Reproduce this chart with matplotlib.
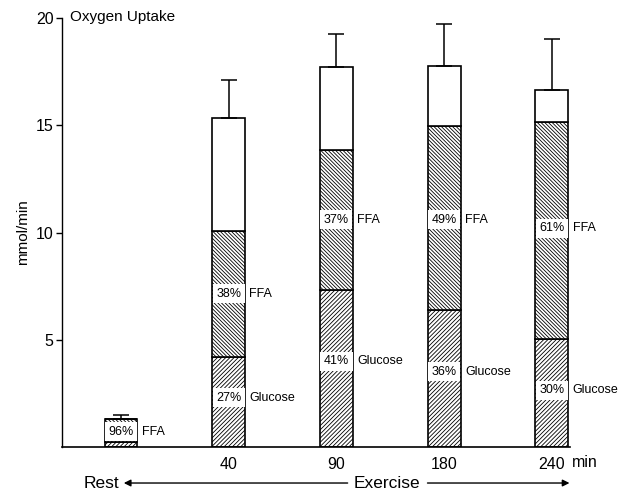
import numpy as np
import matplotlib.pyplot as plt

plt.rcParams['font.family'] = ['Liberation Sans', 'DejaVu Sans']
plt.rcParams['hatch.linewidth'] = 0.6

# Data (mmol/min)
groups = ['Rest', '40', '90', '180', '240']
glucose = [0.25, 4.21, 7.32, 6.37, 5.05]
ffa = [1.05, 5.87, 6.53, 8.60, 10.09]
total = [1.30, 15.33, 17.73, 17.75, 16.64]
sd = [0.19, 1.79, 1.51, 1.95, 2.38]
glucose_pct = ['', '27%', '41%', '36%', '30%']
ffa_pct = ['96%', '38%', '37%', '49%', '61%']
glucose_lab_y = [None, 2.3, 4.0, 3.5, 2.65]
ffa_lab_y = [0.7, 7.15, 10.6, 10.6, 10.2]

x = np.arange(len(groups))
w = 0.306
glucose = np.array(glucose)
ffa = np.array(ffa)
total = np.array(total)
ffa_top = glucose + ffa

fig = plt.figure(figsize=(6.2, 4.95), dpi=100)
ax = fig.add_axes([0.1, 0.097, 0.819, 0.8666])

# stacked bars
ax.bar(x, glucose, w, color='white', edgecolor='black', hatch='/' * 8, lw=1.2)
ax.bar(x, ffa, w, bottom=glucose, color='white', edgecolor='black', hatch='\\' * 9, lw=1.2)
ax.bar(x, total - ffa_top, w, bottom=ffa_top, color='white', edgecolor='black', lw=1.2)
ax.errorbar(x, total, yerr=[np.zeros(len(x)), sd], fmt='none', ecolor='black',
            elinewidth=1.1, capsize=6, capthick=1.1)

# percent labels in white boxes, name labels right of the bars
for i in range(len(x)):
    ax.text(x[i], ffa_lab_y[i], ffa_pct[i], ha='center', va='center', fontsize=9,
            bbox=dict(facecolor='white', edgecolor='none', pad=2.5))
    ax.text(x[i] + w / 2 + 0.04, ffa_lab_y[i], 'FFA', ha='left', va='center', fontsize=9)
    if glucose_pct[i]:
        ax.text(x[i], glucose_lab_y[i], glucose_pct[i], ha='center', va='center', fontsize=9,
                bbox=dict(facecolor='white', edgecolor='none', pad=2.5))
        ax.text(x[i] + w / 2 + 0.04, glucose_lab_y[i], 'Glucose', ha='left', va='center', fontsize=9)

ax.set_xlim(-0.548, 4.167)
ax.set_ylim(0, 20)
ax.set_xticks(x[1:])
ax.set_xticklabels(groups[1:], fontsize=11.5)
ax.tick_params(axis='x', length=0, pad=7)
ax.set_yticks([5, 10, 15, 20])
ax.set_yticklabels(['5', '10', '15', '20'], fontsize=11.5)
ax.tick_params(axis='y', length=4, width=1.0, pad=2)
ax.spines['top'].set_visible(False)
ax.spines['right'].set_visible(False)
ax.spines['left'].set_linewidth(1.0)
ax.spines['bottom'].set_linewidth(1.2)
ax.set_ylabel('mmol/min', fontsize=11, labelpad=4)

ax.text(4.19, -0.72, 'min', ha='left', va='center', fontsize=11.5)
fig.text(70 / 620, 1 - 17 / 495, 'Oxygen Uptake', ha='left', va='center', fontsize=11)

# Rest <-- Exercise --> annotation
ax.text(-0.02, -1.68, 'Rest', ha='right', va='center', fontsize=12.5, clip_on=False)
ax.text(2.47, -1.68, 'Exercise', ha='center', va='center', fontsize=12.5, clip_on=False)
ax.annotate('', xy=(0.0, -1.68), xytext=(2.13, -1.68), annotation_clip=False,
            arrowprops=dict(arrowstyle='-|>', color='black', lw=1.0, mutation_scale=10))
ax.annotate('', xy=(4.19, -1.68), xytext=(2.82, -1.68), annotation_clip=False,
            arrowprops=dict(arrowstyle='-|>', color='black', lw=1.0, mutation_scale=10))

plt.savefig('out.png', dpi=100)
